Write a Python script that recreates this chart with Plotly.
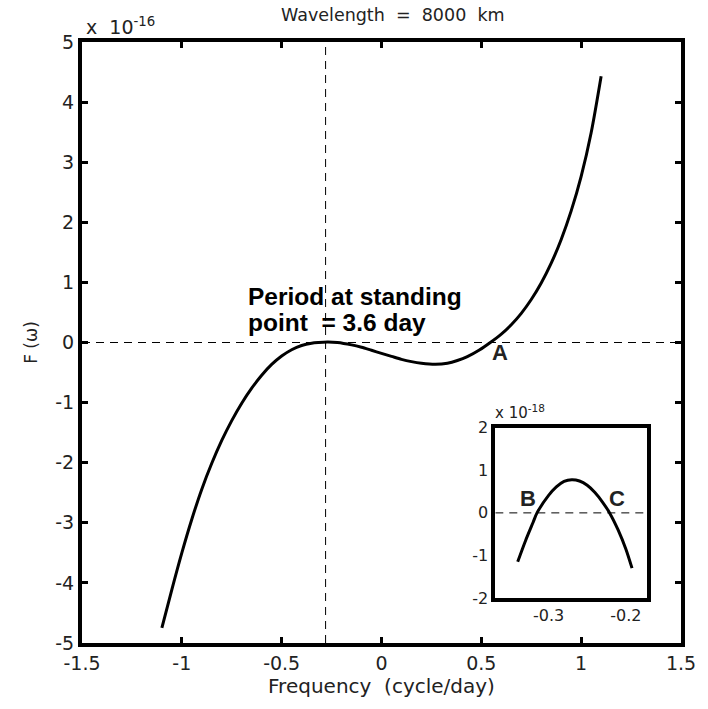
import plotly.graph_objects as go

# Dispersion function F(omega) for a wavelength of 8000 km (units of 1e-16)
freq = [-1.10, -1.05, -1.00, -0.95, -0.90, -0.85, -0.80, -0.75, -0.70, -0.65,
        -0.60, -0.55, -0.50, -0.45, -0.40, -0.35, -0.315, -0.27, -0.221, -0.15,
        -0.10, -0.05, 0.00, 0.05, 0.10, 0.15, 0.20, 0.27, 0.33, 0.38,
        0.43, 0.49, 0.545, 0.60, 0.65, 0.70, 0.75, 0.80, 0.85, 0.90,
        0.95, 1.00, 1.05, 1.10]
F_main = [-4.75, -4.11, -3.50, -2.94, -2.44, -2.01, -1.63, -1.30, -1.01, -0.76,
          -0.545, -0.365, -0.225, -0.12, -0.05, -0.012, 0.0, 0.008, 0.0, -0.04,
          -0.08, -0.13, -0.18, -0.23, -0.28, -0.318, -0.345, -0.362, -0.345, -0.30,
          -0.235, -0.125, 0.0, 0.14, 0.295, 0.485, 0.715, 0.99, 1.32, 1.715,
          2.19, 2.765, 3.49, 4.43]

# Zoom on the standing point (units of 1e-18)
inset_freq = [-0.340, -0.330, -0.320, -0.315, -0.300, -0.290, -0.280, -0.270,
              -0.260, -0.250, -0.240, -0.230, -0.221, -0.210, -0.200, -0.192]
F_inset = [-1.15, -0.66, -0.22, 0.0, 0.41, 0.61, 0.74, 0.78,
           0.75, 0.65, 0.48, 0.25, 0.0, -0.40, -0.85, -1.30]

standing_freq = -0.28

x_ticks = [-1.5, -1, -0.5, 0, 0.5, 1, 1.5]
x_ticktext = ["-1.5", "-1", "-0.5", "0", "0.5", "1", "1.5"]
y_ticks = [-5, -4, -3, -2, -1, 0, 1, 2, 3, 4, 5]
y_ticktext = ["-5", "-4", "-3", "-2", "-1", "0", "1", "2", "3", "4", "5"]
inset_xticks = [-0.3, -0.2]
inset_xticktext = ["-0.3", "-0.2"]
inset_yticks = [-2, -1, 0, 1, 2]
inset_yticktext = ["-2", "-1", "0", "1", "2"]

x_range = [-1.5, 1.5]
y_range = [-5, 5]
inset_x_range = [-0.369, -0.172]
inset_y_range = [-2, 2]

FONT = "DejaVu Sans"
BOLD = "Liberation Sans"
INK = "#222222"
DASH = "8px,6px"

fig = go.Figure()

# reference lines: zero level and standing-point frequency
fig.add_trace(go.Scatter(x=x_range, y=[0, 0], mode="lines",
                         line=dict(color="black", width=1, dash=DASH),
                         hoverinfo="skip"))
fig.add_trace(go.Scatter(x=[standing_freq, standing_freq], y=y_range, mode="lines",
                         line=dict(color="black", width=1, dash=DASH),
                         hoverinfo="skip"))

fig.add_trace(go.Scatter(x=freq, y=F_main, mode="lines",
                         line=dict(color="black", width=3, shape="spline", smoothing=0.8)))

fig.add_trace(go.Scatter(x=inset_x_range, y=[0, 0], mode="lines",
                         line=dict(color="black", width=1, dash=DASH),
                         xaxis="x2", yaxis="y2", hoverinfo="skip"))
fig.add_trace(go.Scatter(x=inset_freq, y=F_inset, mode="lines",
                         line=dict(color="black", width=3, shape="spline", smoothing=0.8),
                         xaxis="x2", yaxis="y2"))

axis_common = dict(showgrid=False, zeroline=False, showline=True, linecolor="black",
                   linewidth=4, mirror="ticks")

fig.update_layout(
    width=708, height=709,
    margin=dict(l=82, r=17, t=42, b=66),
    paper_bgcolor="white", plot_bgcolor="white",
    showlegend=False,
    xaxis=dict(domain=[0, 1], range=x_range, tickvals=x_ticks, ticktext=x_ticktext,
               ticks="inside", ticklen=6, tickwidth=3, tickcolor="black",
               tickfont=dict(family=FONT, size=19, color=INK),
               title=dict(text="Frequency\u00a0\u00a0(cycle/day)", standoff=7,
                          font=dict(family=FONT, size=20, color=INK)),
               **axis_common),
    yaxis=dict(domain=[0, 1], range=y_range, tickvals=y_ticks, ticktext=y_ticktext,
               ticks="inside", ticklen=6, tickwidth=3, tickcolor="black",
               tickfont=dict(family=FONT, size=19, color=INK),
               title=dict(text="F (\u03c9)", standoff=14,
                          font=dict(family=FONT, size=17, color=INK)),
               **axis_common),
    xaxis2=dict(domain=[0.690, 0.944], anchor="y2", range=inset_x_range,
                tickvals=inset_xticks, ticktext=inset_xticktext, ticks="",
                tickfont=dict(family=FONT, size=16, color=INK), **axis_common),
    yaxis2=dict(domain=[0.075, 0.358], anchor="x2", range=inset_y_range,
                tickvals=inset_yticks, ticktext=inset_yticktext, ticks="",
                tickfont=dict(family=FONT, size=16, color=INK), **axis_common),
)

annotations = [
    dict(text="Wavelength\u00a0\u00a0=\u00a0\u00a08000\u00a0\u00a0km", xref="paper", yref="paper",
         x=(398 - 82) / 609, y=(643 - 15) / 601, xanchor="center", yanchor="middle",
         font=dict(family=FONT, size=17.5, color=INK)),
    dict(text="x\u00a0\u00a010<sup>-16</sup>", xref="paper", yref="paper",
         x=(84 - 82) / 609, y=(643 - 40) / 601, xanchor="left", yanchor="bottom",
         font=dict(family=FONT, size=19, color=INK)),
    dict(text="x 10<sup>-18</sup>", xref="paper", yref="paper",
         x=(500 - 82) / 609, y=(643 - 424) / 601, xanchor="left", yanchor="bottom",
         font=dict(family=FONT, size=15, color=INK)),
    dict(text="<b>Period at standing</b>", xref="x", yref="y", x=-0.677, y=0.77,
         xanchor="left", yanchor="middle", font=dict(family=BOLD, size=24.5, color="black")),
    dict(text="<b>point\u00a0\u00a0= 3.6 day</b>", xref="x", yref="y", x=-0.677, y=0.34,
         xanchor="left", yanchor="middle", font=dict(family=BOLD, size=24.5, color="black")),
    dict(text="<b>A</b>", xref="x", yref="y", x=0.594, y=-0.17,
         xanchor="center", yanchor="middle", font=dict(family=BOLD, size=22, color="#222")),
    dict(text="<b>B</b>", xref="x2", yref="y2", x=-0.327, y=0.35,
         xanchor="center", yanchor="middle", font=dict(family=BOLD, size=22, color="#222")),
    dict(text="<b>C</b>", xref="x2", yref="y2", x=-0.211, y=0.35,
         xanchor="center", yanchor="middle", font=dict(family=BOLD, size=22, color="#222")),
]
for a in annotations:
    a["showarrow"] = False
fig.update_layout(annotations=annotations)

fig.write_html("out.html")
